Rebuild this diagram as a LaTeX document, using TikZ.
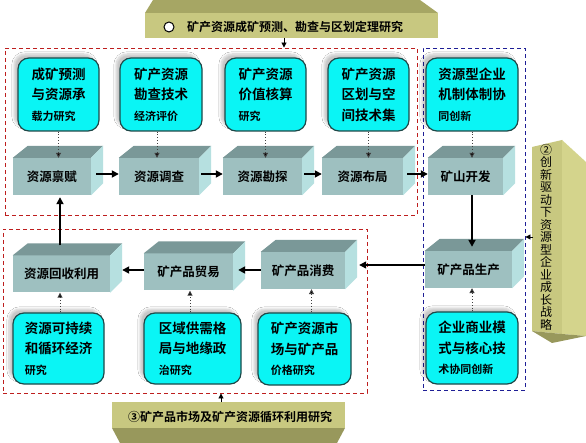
\documentclass[tikz,border=0pt]{standalone}
\usepackage{fontspec}
\setmainfont{Noto Sans CJK SC}[BoldFont={Noto Sans CJK SC Bold}]
\usetikzlibrary{arrows.meta,shadows.blur,calc}
\definecolor{cy}{RGB}{10,245,245}
\definecolor{cyb}{RGB}{30,72,72}
\definecolor{gfrontc}{RGB}{158,192,192}
\definecolor{gtopc}{RGB}{122,152,152}
\definecolor{gsidec}{RGB}{182,224,224}
\definecolor{olf}{RGB}{200,200,128}
\definecolor{old}{RGB}{166,166,100}
\definecolor{ols}{RGB}{212,212,140}
\definecolor{olb}{RGB}{152,152,92}
\definecolor{rd}{RGB}{190,30,30}
\definecolor{bl}{RGB}{30,30,150}
\newcommand\linesm{\fontsize{11}{14}\selectfont}
\newcommand\graybox[5]{%
  \node[gfront, minimum width=#4pt] (#1) at (#2,#3) {#5};
  \fill[gtopc] (#1.north west) -- ++(15,-12) -- ($(#1.north east)+(12,-12)$) -- (#1.north east) -- cycle;
  \fill[gsidec] (#1.north east) -- ++(12,-12) -- ($(#1.south east)+(12,-12)$) -- (#1.south east) -- cycle;}
\begin{document}
\begin{tikzpicture}[x=1pt,y=-1pt,
  cyanbox/.style={draw=cyb, line width=1.2pt, fill=cy, rounded corners=11pt, align=left, inner sep=0pt,
    font=\bfseries\fontsize{13.5}{20.5}\selectfont,
    blur shadow={shadow xshift=-4pt, shadow yshift=4pt, shadow blur steps=8, shadow opacity=22}},
  gfront/.style={fill=gfrontc, draw=none, minimum height=37pt, inner sep=0pt, font=\bfseries\fontsize{12.5}{14}\selectfont},
  reddash/.style={draw=rd, dash pattern=on 4pt off 3pt, line width=0.9pt, inner sep=0pt},
  bluedash/.style={draw=bl, dash pattern=on 4pt off 3pt, line width=0.9pt, inner sep=0pt},
  arr/.style={-{Triangle[length=7pt,width=7pt]}, line width=1.7pt, black},
  arrthin/.style={-{Triangle[length=7pt,width=7pt]}, line width=1.2pt, black},
  arrsmall/.style={-{Triangle[length=5pt,width=5pt]}, line width=0.9pt, black},
  dotarr/.style={dotted, line width=0.9pt, draw=black!75, -{Triangle[length=5pt,width=5pt,fill=black]}},
  bannertext/.style={font=\bfseries\fontsize{12}{14}\selectfont, inner sep=0pt}
]
\useasboundingbox (0,0) rectangle (586,443);
\fill[white] (0,0) rectangle (586,443);

% dashed frames
\node[reddash, minimum width=412pt, minimum height=167pt] (rb1) at (211,131.5) {};
\node[bluedash, minimum width=102pt, minimum height=342pt] (bbx) at (474,219) {};
\node[reddash, minimum width=364pt, minimum height=164pt] (rb2) at (185,311) {};

% top banner
\fill[old] (145,13) -- (153,0) -- (420,0) -- (438,13) -- cycle;
\node[fill=olf, minimum width=293pt, minimum height=25pt, inner sep=0pt] (tb) at (291.5,25.5) {};
\node[draw=black, line width=1pt, fill=white, circle, minimum size=10pt, inner sep=0pt] (tcirc) at (169,27) {};
\node[bannertext] (tbt) at (295,27) {矿产资源成矿预测、勘查与区划定理研究};
\coordinate (tA) at (284,38);
\draw[arrsmall] (tA) -- (tA |- rb1.north);

% bottom banner
\fill[olb] (112,428) -- (345,428) -- (337,443) -- (120,443) -- cycle;
\node[fill=olf, minimum width=233pt, minimum height=26pt, inner sep=0pt] (bb) at (228.5,415) {};
\node[bannertext] (bbt) at (230,417) {③矿产品市场及矿产资源循环利用研究};
\coordinate (bA) at (221,402);
\draw[arrsmall] (bA) -- (bA |- rb2.south);

% vertical banner
\fill[olf] (532,147) -- (562,140) -- (562,334) -- (532,331) -- cycle;
\fill[ols] (562,140) -- (586,162) -- (586,336) -- (562,334) -- cycle;
\fill[olb] (532,331) -- (562,334) -- (586,336) -- (552,343) -- cycle;
\node[font=\fontsize{12}{12.5}\selectfont, align=center, inner sep=0pt] (vbt) at (546,237)
  {②\\创\\新\\驱\\动\\下\\资\\源\\型\\企\\业\\成\\长\\战\\略};
\coordinate (vA) at (533,237);
\draw[arrsmall] (vA) -- (vA -| bbx.east);

% cyan boxes top
\node[cyanbox, minimum width=81pt, minimum height=73pt] (c1) at (58.5,94.5) {成矿预测\\与资源承\\{\linesm 载力研究}};
\node[cyanbox, minimum width=82pt, minimum height=73pt] (c2) at (161,94.5) {矿产资源\\勘查技术\\{\linesm 经济评价}};
\node[cyanbox, minimum width=81pt, minimum height=73pt] (c3) at (265.5,94.5) {矿产资源\\价值核算\\{\linesm 研究}};
\node[cyanbox, minimum width=81pt, minimum height=73pt] (c4) at (368.5,94.5) {矿产资源\\区划与空\\间技术集};
\node[cyanbox, minimum width=92pt, minimum height=73pt] (c5) at (472,94.5) {资源型企业\\机制体制协\\{\linesm 同创新}};

% cyan boxes bottom
\node[cyanbox, minimum width=91pt, minimum height=71pt] (c6) at (58.5,348.5) {资源可持续\\和循环经济\\{\linesm 研究}};
\node[cyanbox, minimum width=97pt, minimum height=71pt] (c7) at (192.5,348.5) {区域供需格\\局与地缘政\\{\linesm 治研究}};
\node[cyanbox, minimum width=93pt, minimum height=72pt] (c8) at (304.5,349) {矿产资源市\\场与矿产品\\{\linesm 价格研究}};
\node[cyanbox, minimum width=92pt, minimum height=72pt] (c9) at (472,348) {企业商业模\\式与核心技\\{\linesm 术协同创新}};

% gray 3D boxes
\graybox{A}{52}{176.5}{78}{资源禀赋}
\graybox{B}{159}{176.5}{80}{资源调查}
\graybox{C}{262.5}{176.5}{79}{资源勘探}
\graybox{D}{362.5}{176.5}{81}{资源布局}
\graybox{E}{465.5}{176.5}{75}{矿山开发}
\graybox{F}{468.5}{269.5}{87}{矿产品生产}
\graybox{G}{303}{270.5}{84}{矿产品消费}
\graybox{H}{188.5}{272}{89}{矿产品贸易}
\graybox{I}{61.5}{274}{97}{资源回收利用}

% main flow arrows
\draw[arr] ([xshift=5pt,yshift=2.5pt]A.east) -- ([yshift=2.5pt]B.west);
\draw[arr] ([xshift=2pt,yshift=2.5pt]B.east) -- ([yshift=2.5pt]C.west);
\draw[arr] ([xshift=2pt,yshift=2.5pt]C.east) -- ([yshift=2.5pt]D.west);
\draw[arr] ([xshift=4pt,yshift=2.5pt]D.east) -- ([yshift=2.5pt]E.west);
\draw[arr] ([xshift=6.5pt]E.south) -- ([xshift=3.5pt,yshift=4pt]F.north);
\draw[arrthin] ([yshift=4.5pt]F.west) -- ([xshift=14pt,yshift=5.5pt]G.east);
\draw[arr] ([yshift=0.5pt]G.west) -- ([xshift=5pt,yshift=2pt]H.east);
\draw[arr] ([yshift=2pt]H.west) -- ([xshift=12pt,yshift=4pt]I.east);
\draw[arr] ([xshift=-1.5pt,yshift=10pt]I.north) -- ([xshift=8pt,yshift=-2pt]A.south);

% dotted research links
\draw[dotarr] (c1.south) -- (c1.south |- A.north);
\coordinate (c2a) at ([xshift=-4pt]c2.south);
\draw[dotarr] (c2a) -- (c2a |- B.north);
\draw[dotarr] (c3.south) -- (c3.south |- C.north);
\draw[dotarr] (c4.south) -- (c4.south |- D.north);
\draw[dotarr] (c5.south) -- (c5.south |- E.north);
\coordinate (c6a) at ([xshift=1.5pt]c6.north);
\draw[dotarr] (c6a) -- (c6a |- I.south);
\coordinate (c7a) at ([xshift=-2.5pt]c7.north);
\draw[dotarr] (c7a) -- (c7a |- H.south);
\coordinate (c8a) at ([xshift=7pt]c8.north);
\draw[dotarr] (c8a) -- (c8a |- G.south);
\draw[dotarr] (c9.north) -- (c9.north |- F.south);
\end{tikzpicture}
\end{document}
